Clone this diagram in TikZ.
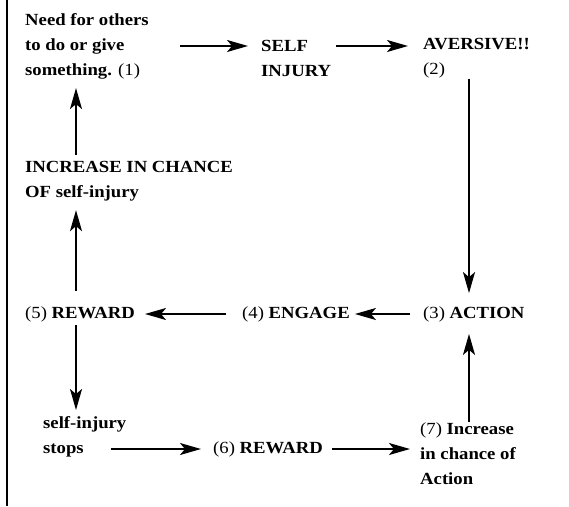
\documentclass[tikz,border=0pt]{standalone}
\usepackage{fontspec}
\setmainfont{Liberation Serif}
\usetikzlibrary{arrows.meta}
\begin{document}
\begin{tikzpicture}[x=1pt,y=-1pt,
  lbl/.style={anchor=west,inner sep=0pt,align=left,font=\fontsize{17}{25}\selectfont\addfontfeature{FakeStretch=1.1}\bfseries},
  arr/.style={line width=1.8pt,-{Stealth[length=21pt,width=12pt,inset=5pt]}}]
\useasboundingbox (0,0) rectangle (569,506);
\draw[line width=1.2pt] (7,0) -- (7,506);
\coordinate (lc) at (76,0);
\coordinate (rc) at (469,0);

\node[lbl] (n1)   at (25,46)    {Need for others\\to do or give\\something. \textmd{(1)}};
\node[lbl] (si)   at (261,58.5) {SELF\\INJURY};
\node[lbl] (av)   at (423,58.5) {AVERSIVE!!\\\textmd{(2)}};
\node[lbl] (act)  at (423,314)  {\textmd{(3)} ACTION};
\node[lbl] (eng)  at (242,314)  {\textmd{(4)} ENGAGE};
\node[lbl] (rw5)  at (25,314)   {\textmd{(5)} REWARD};
\node[lbl] (inc)  at (25,181)   {INCREASE IN CHANCE\\OF self-injury};
\node[lbl] (stop) at (43,436.5) {self-injury\\stops};
\node[lbl] (rw6)  at (213,449)  {\textmd{(6)} REWARD};
\node[lbl] (inc7) at (420,454)  {\textmd{(7)} Increase\\in chance of\\Action};

\draw[arr] ([xshift=31pt]n1.east) -- ([xshift=-13pt]si.west |- n1.east);
\draw[arr] ([xshift=5pt]si.east |- n1.east) -- ([xshift=-15pt]av.west |- n1.east);
\draw[arr,shorten <=0pt,shorten >=13pt] (av.south -| rc) -- (act.north -| rc);
\draw[arr,shorten <=13pt,shorten >=5pt] (act.west) -- (eng.east);
\draw[arr,shorten <=16pt,shorten >=10pt] (eng.west) -- (rw5.east);
\draw[arr,shorten <=15pt,shorten >=9pt] (rw5.north -| lc) -- (inc.south -| lc);
\draw[arr,shorten <=6pt,shorten >=9pt] (inc.north -| lc) -- (n1.south -| lc);
\draw[arr,shorten <=3pt,shorten >=6pt] (rw5.south -| lc) -- (stop.north -| lc);
\draw[arr] ([xshift=-16pt]stop.east |- rw6.west) -- ([xshift=-12pt]rw6.west);
\draw[arr] ([xshift=9pt]rw6.east) -- ([xshift=-10pt]inc7.west |- rw6.east);
\draw[arr,shorten <=1pt,shorten >=12pt] (inc7.north -| rc) -- (act.south -| rc);
\end{tikzpicture}
\end{document}
